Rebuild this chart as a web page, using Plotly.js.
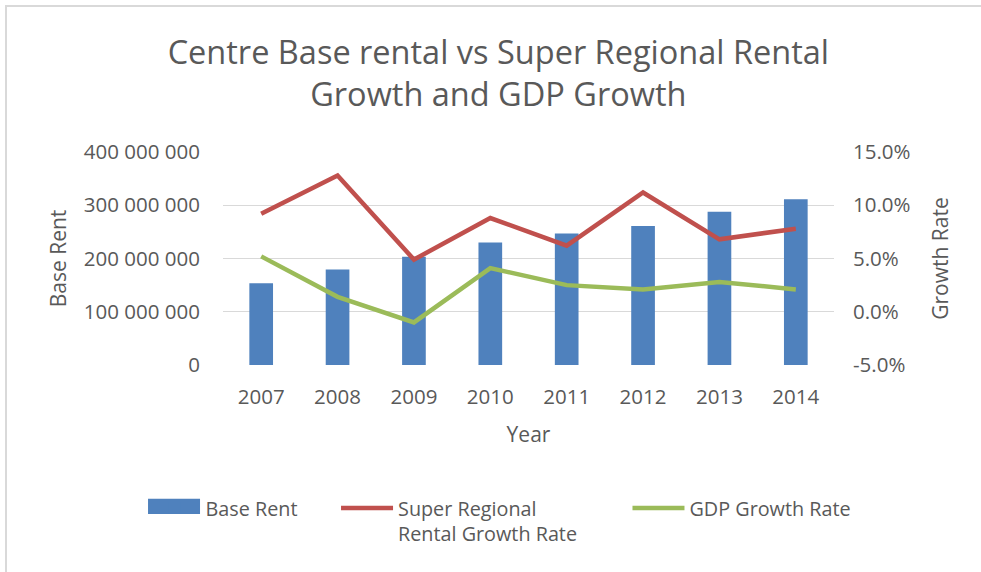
<!DOCTYPE html>
<html>
<head>
<meta charset="utf-8">
<script src="https://cdn.plot.ly/plotly-3.0.1.min.js"></script>
<style>
html,body{margin:0;padding:0;background:#fff;}
#wrap{position:relative;width:981px;height:572px;}
#chart{width:981px;height:572px;}
#frame{position:absolute;left:5px;top:5px;width:990px;height:600px;border-top:2px solid #d9d9d9;border-left:2px solid #d9d9d9;pointer-events:none;}
</style>
</head>
<body>
<div id="wrap"><div id="chart"></div><div id="frame"></div></div>
<script>
const years = ['2007','2008','2009','2010','2011','2012','2013','2014'];
const baseRent = [153500000, 179500000, 203500000, 230000000, 247000000, 261000000, 288000000, 311500000];
const superRegionalGrowth = [0.092, 0.128, 0.049, 0.088, 0.062, 0.112, 0.068, 0.078];
const gdpGrowth = [0.052, 0.014, -0.010, 0.041, 0.025, 0.021, 0.028, 0.021];
const leftTicks = [0, 100000000, 200000000, 300000000, 400000000];
const leftTickText = ['0', '100 000 000', '200 000 000', '300 000 000', '400 000 000'];
const rightTicks = [-0.05, 0, 0.05, 0.10, 0.15];
const rightTickText = ['-5.0%', '0.0%', '5.0%', '10.0%', '15.0%'];

const FONT = 'Open Sans, Noto Sans, sans-serif';
const GRAY = '#595959';

const traces = [
  {type:'bar', x:years, y:baseRent, name:'Base Rent', marker:{color:'#4F81BD'}, legend:'legend', yaxis:'y', width:0.31, hoverinfo:'skip'},
  {type:'scatter', mode:'lines', x:years, y:superRegionalGrowth, name:'Super Regional<br>Rental Growth Rate', line:{color:'#C0504D', width:4.5}, yaxis:'y2', legend:'legend2'},
  {type:'scatter', mode:'lines', x:years, y:gdpGrowth, name:'GDP Growth Rate', line:{color:'#9BBB59', width:4.5}, yaxis:'y2', legend:'legend3'}
];

const legendCommon = {orientation:'h', xanchor:'left', yanchor:'top', valign:'top', font:{family:FONT, size:19.8, color:GRAY}, bgcolor:'rgba(0,0,0,0)', itemwidth:52, tracegroupgap:0};

const layout = {
  width:981, height:572,
  margin:{l:223, r:147, t:151.5, b:206.5},
  paper_bgcolor:'#fff', plot_bgcolor:'#fff',
  font:{family:FONT, color:GRAY},
  title:{text:'Centre Base rental vs Super Regional Rental<br>Growth and GDP Growth', font:{family:FONT, size:32.5, color:GRAY}, x:0.508, xanchor:'center', y:0.888, yanchor:'top'},
  xaxis:{type:'category', showgrid:false, showline:false, ticks:'', tickfont:{size:20.5, color:GRAY}, ticklabelstandoff:17,
    title:{text:'Year', font:{size:21, color:GRAY}, standoff:18}},
  yaxis:{range:[0, 400000000], tickvals:leftTicks, ticktext:leftTickText, showgrid:true, gridcolor:'#D9D9D9', gridwidth:1.3, zeroline:false, showline:false, ticks:'',
    tickfont:{size:20.5, color:GRAY}, ticklabelstandoff:22,
    title:{text:'Base Rent', font:{size:21, color:GRAY}, standoff:11}},
  yaxis2:{overlaying:'y', side:'right', range:[-0.05, 0.15], tickvals:rightTicks, ticktext:rightTickText, showgrid:false, zeroline:false, showline:false, ticks:'',
    tickfont:{size:20.5, color:GRAY}, ticklabelstandoff:18,
    title:{text:'Growth Rate', font:{size:21, color:GRAY}, standoff:23}},
  legend:Object.assign({}, legendCommon, {x:-0.13, y:-0.58}),
  legend2:Object.assign({}, legendCommon, {x:0.185, y:-0.58}),
  legend3:Object.assign({}, legendCommon, {x:0.662, y:-0.58}),
  shapes:[
    {type:'rect', xref:'paper', yref:'paper', x0:-0.1227, x1:-0.0376, y0:-0.7, y1:-0.6285, fillcolor:'#4F81BD', line:{width:0}, layer:'above'}
  ],
  bargap:0.69,
  showlegend:true
};

Plotly.newPlot('chart', traces, layout, {displayModeBar:false, staticPlot:true});
</script>
</body>
</html>
